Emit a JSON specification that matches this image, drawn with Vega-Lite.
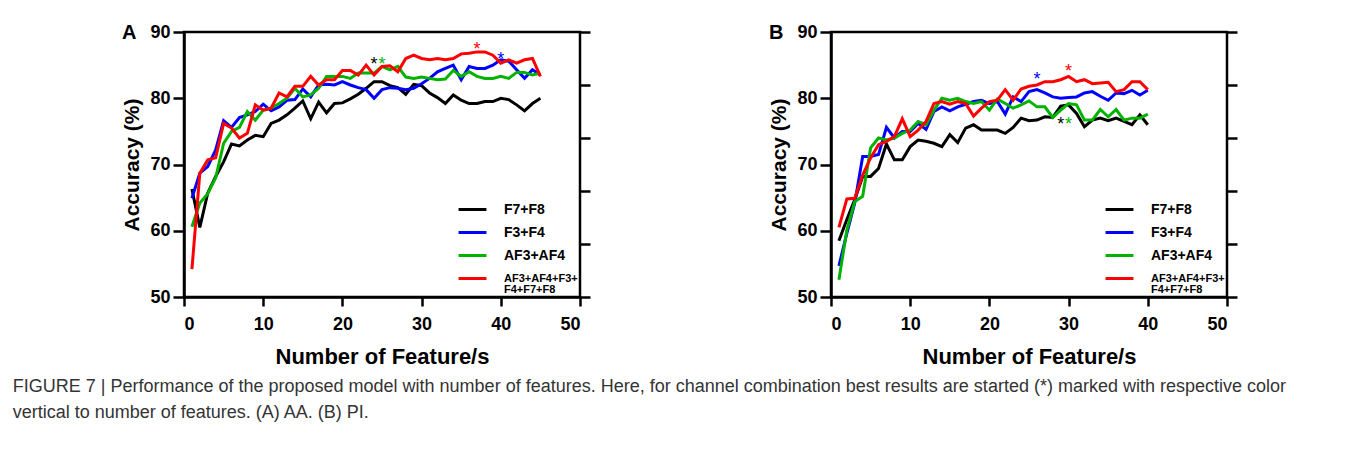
{
  "$schema": "https://vega.github.io/schema/vega-lite/v6.json",
  "background": "white",
  "padding": {"left": 12, "top": 21, "right": 5, "bottom": 5},
  "config": {
    "font": "Liberation Sans",
    "view": {"stroke": "black", "strokeWidth": 2.5},
    "axis": {"domainColor": "black", "domainWidth": 2.5, "tickColor": "black", "tickWidth": 2.5, "grid": false, "labelFont": "Liberation Sans", "labelFontSize": 18, "labelFontWeight": "bold", "labelColor": "black", "titleFont": "Liberation Sans", "titleFontWeight": "bold", "titleColor": "black"},
    "legend": {"orient": "bottom-right", "offset": 2, "title": null, "symbolType": "stroke", "symbolStrokeWidth": 3, "symbolSize": 780, "labelFont": "Liberation Sans", "labelFontSize": 14, "labelFontWeight": "bold", "labelColor": "black", "labelOffset": 16, "rowPadding": 0, "padding": 0, "labelLimit": 300}
  },
  "title": {
    "text": ["FIGURE 7 | Performance of the proposed model with number of features. Here, for channel combination best results are started (*) marked with respective color", "vertical to number of features. (A) AA. (B) PI."],
    "orient": "bottom", "anchor": "start", "frame": "bounds", "fontSize": 18, "fontWeight": "normal", "color": "#333333", "font": "Liberation Sans", "lineHeight": 26, "offset": 10, "dx": -108
  },
  "resolve": {"scale": {"color": "independent"}, "legend": {"color": "independent"}},
  "datasets": {
    "A": [
      {"n":1,"series":"F7+F8","acc":66.3},{"n":2,"series":"F7+F8","acc":60.5},{"n":3,"series":"F7+F8","acc":65.7},{"n":4,"series":"F7+F8","acc":68.2},{"n":5,"series":"F7+F8","acc":70.4},{"n":6,"series":"F7+F8","acc":73.1},{"n":7,"series":"F7+F8","acc":72.8},{"n":8,"series":"F7+F8","acc":73.7},{"n":9,"series":"F7+F8","acc":74.4},{"n":10,"series":"F7+F8","acc":74.2},{"n":11,"series":"F7+F8","acc":76.2},{"n":12,"series":"F7+F8","acc":76.7},{"n":13,"series":"F7+F8","acc":77.5},{"n":14,"series":"F7+F8","acc":78.5},{"n":15,"series":"F7+F8","acc":79.6},{"n":16,"series":"F7+F8","acc":76.9},{"n":17,"series":"F7+F8","acc":79.4},{"n":18,"series":"F7+F8","acc":77.8},{"n":19,"series":"F7+F8","acc":79.2},{"n":20,"series":"F7+F8","acc":79.3},{"n":21,"series":"F7+F8","acc":79.9},{"n":22,"series":"F7+F8","acc":80.6},{"n":23,"series":"F7+F8","acc":81.5},{"n":24,"series":"F7+F8","acc":82.5},{"n":25,"series":"F7+F8","acc":82.5},{"n":26,"series":"F7+F8","acc":81.9},{"n":27,"series":"F7+F8","acc":81.6},{"n":28,"series":"F7+F8","acc":80.6},{"n":29,"series":"F7+F8","acc":82.1},{"n":30,"series":"F7+F8","acc":81.9},{"n":31,"series":"F7+F8","acc":80.8},{"n":32,"series":"F7+F8","acc":80.1},{"n":33,"series":"F7+F8","acc":79.2},{"n":34,"series":"F7+F8","acc":80.5},{"n":35,"series":"F7+F8","acc":79.7},{"n":36,"series":"F7+F8","acc":79.2},{"n":37,"series":"F7+F8","acc":79.2},{"n":38,"series":"F7+F8","acc":79.5},{"n":39,"series":"F7+F8","acc":79.5},{"n":40,"series":"F7+F8","acc":80.0},{"n":41,"series":"F7+F8","acc":79.8},{"n":42,"series":"F7+F8","acc":79.0},{"n":43,"series":"F7+F8","acc":78.1},{"n":44,"series":"F7+F8","acc":79.2},{"n":45,"series":"F7+F8","acc":80.0},
      {"n":1,"series":"F3+F4","acc":64.9},{"n":2,"series":"F3+F4","acc":68.7},{"n":3,"series":"F3+F4","acc":69.7},{"n":4,"series":"F3+F4","acc":72.2},{"n":5,"series":"F3+F4","acc":76.6},{"n":6,"series":"F3+F4","acc":75.6},{"n":7,"series":"F3+F4","acc":77.1},{"n":8,"series":"F3+F4","acc":77.5},{"n":9,"series":"F3+F4","acc":78.0},{"n":10,"series":"F3+F4","acc":79.1},{"n":11,"series":"F3+F4","acc":78.1},{"n":12,"series":"F3+F4","acc":78.7},{"n":13,"series":"F3+F4","acc":79.7},{"n":14,"series":"F3+F4","acc":79.8},{"n":15,"series":"F3+F4","acc":81.4},{"n":16,"series":"F3+F4","acc":80.2},{"n":17,"series":"F3+F4","acc":82.0},{"n":18,"series":"F3+F4","acc":82.1},{"n":19,"series":"F3+F4","acc":82.0},{"n":20,"series":"F3+F4","acc":82.5},{"n":21,"series":"F3+F4","acc":82.0},{"n":22,"series":"F3+F4","acc":81.6},{"n":23,"series":"F3+F4","acc":81.3},{"n":24,"series":"F3+F4","acc":80.0},{"n":25,"series":"F3+F4","acc":81.3},{"n":26,"series":"F3+F4","acc":81.6},{"n":27,"series":"F3+F4","acc":81.5},{"n":28,"series":"F3+F4","acc":81.3},{"n":29,"series":"F3+F4","acc":81.5},{"n":30,"series":"F3+F4","acc":82.2},{"n":31,"series":"F3+F4","acc":83.0},{"n":32,"series":"F3+F4","acc":84.0},{"n":33,"series":"F3+F4","acc":84.5},{"n":34,"series":"F3+F4","acc":85.0},{"n":35,"series":"F3+F4","acc":82.8},{"n":36,"series":"F3+F4","acc":84.8},{"n":37,"series":"F3+F4","acc":84.5},{"n":38,"series":"F3+F4","acc":84.5},{"n":39,"series":"F3+F4","acc":85.0},{"n":40,"series":"F3+F4","acc":85.8},{"n":41,"series":"F3+F4","acc":85.6},{"n":42,"series":"F3+F4","acc":84.3},{"n":43,"series":"F3+F4","acc":83.0},{"n":44,"series":"F3+F4","acc":84.3},{"n":45,"series":"F3+F4","acc":83.5},
      {"n":1,"series":"AF3+AF4","acc":60.6},{"n":2,"series":"AF3+AF4","acc":64.2},{"n":3,"series":"AF3+AF4","acc":65.6},{"n":4,"series":"AF3+AF4","acc":68.0},{"n":5,"series":"AF3+AF4","acc":73.2},{"n":6,"series":"AF3+AF4","acc":75.0},{"n":7,"series":"AF3+AF4","acc":75.6},{"n":8,"series":"AF3+AF4","acc":78.0},{"n":9,"series":"AF3+AF4","acc":76.7},{"n":10,"series":"AF3+AF4","acc":78.2},{"n":11,"series":"AF3+AF4","acc":78.5},{"n":12,"series":"AF3+AF4","acc":79.2},{"n":13,"series":"AF3+AF4","acc":80.0},{"n":14,"series":"AF3+AF4","acc":81.5},{"n":15,"series":"AF3+AF4","acc":80.2},{"n":16,"series":"AF3+AF4","acc":80.5},{"n":17,"series":"AF3+AF4","acc":81.5},{"n":18,"series":"AF3+AF4","acc":83.3},{"n":19,"series":"AF3+AF4","acc":83.3},{"n":20,"series":"AF3+AF4","acc":83.3},{"n":21,"series":"AF3+AF4","acc":83.0},{"n":22,"series":"AF3+AF4","acc":83.8},{"n":23,"series":"AF3+AF4","acc":83.8},{"n":24,"series":"AF3+AF4","acc":83.8},{"n":25,"series":"AF3+AF4","acc":84.8},{"n":26,"series":"AF3+AF4","acc":84.3},{"n":27,"series":"AF3+AF4","acc":84.8},{"n":28,"series":"AF3+AF4","acc":83.2},{"n":29,"series":"AF3+AF4","acc":83.0},{"n":30,"series":"AF3+AF4","acc":83.2},{"n":31,"series":"AF3+AF4","acc":83.0},{"n":32,"series":"AF3+AF4","acc":82.8},{"n":33,"series":"AF3+AF4","acc":82.9},{"n":34,"series":"AF3+AF4","acc":84.2},{"n":35,"series":"AF3+AF4","acc":83.3},{"n":36,"series":"AF3+AF4","acc":84.0},{"n":37,"series":"AF3+AF4","acc":83.3},{"n":38,"series":"AF3+AF4","acc":83.0},{"n":39,"series":"AF3+AF4","acc":83.0},{"n":40,"series":"AF3+AF4","acc":83.3},{"n":41,"series":"AF3+AF4","acc":83.0},{"n":42,"series":"AF3+AF4","acc":83.9},{"n":43,"series":"AF3+AF4","acc":83.9},{"n":44,"series":"AF3+AF4","acc":83.5},{"n":45,"series":"AF3+AF4","acc":83.8},
      {"n":1,"series":"AF3+AF4+F3+F4+F7+F8","acc":54.2},{"n":2,"series":"AF3+AF4+F3+F4+F7+F8","acc":68.7},{"n":3,"series":"AF3+AF4+F3+F4+F7+F8","acc":70.7},{"n":4,"series":"AF3+AF4+F3+F4+F7+F8","acc":71.0},{"n":5,"series":"AF3+AF4+F3+F4+F7+F8","acc":76.2},{"n":6,"series":"AF3+AF4+F3+F4+F7+F8","acc":75.5},{"n":7,"series":"AF3+AF4+F3+F4+F7+F8","acc":74.0},{"n":8,"series":"AF3+AF4+F3+F4+F7+F8","acc":74.7},{"n":9,"series":"AF3+AF4+F3+F4+F7+F8","acc":79.0},{"n":10,"series":"AF3+AF4+F3+F4+F7+F8","acc":78.2},{"n":11,"series":"AF3+AF4+F3+F4+F7+F8","acc":78.5},{"n":12,"series":"AF3+AF4+F3+F4+F7+F8","acc":80.8},{"n":13,"series":"AF3+AF4+F3+F4+F7+F8","acc":80.2},{"n":14,"series":"AF3+AF4+F3+F4+F7+F8","acc":81.8},{"n":15,"series":"AF3+AF4+F3+F4+F7+F8","acc":81.8},{"n":16,"series":"AF3+AF4+F3+F4+F7+F8","acc":83.3},{"n":17,"series":"AF3+AF4+F3+F4+F7+F8","acc":82.0},{"n":18,"series":"AF3+AF4+F3+F4+F7+F8","acc":82.8},{"n":19,"series":"AF3+AF4+F3+F4+F7+F8","acc":82.8},{"n":20,"series":"AF3+AF4+F3+F4+F7+F8","acc":84.2},{"n":21,"series":"AF3+AF4+F3+F4+F7+F8","acc":84.2},{"n":22,"series":"AF3+AF4+F3+F4+F7+F8","acc":83.5},{"n":23,"series":"AF3+AF4+F3+F4+F7+F8","acc":85.0},{"n":24,"series":"AF3+AF4+F3+F4+F7+F8","acc":83.5},{"n":25,"series":"AF3+AF4+F3+F4+F7+F8","acc":84.8},{"n":26,"series":"AF3+AF4+F3+F4+F7+F8","acc":84.9},{"n":27,"series":"AF3+AF4+F3+F4+F7+F8","acc":84.0},{"n":28,"series":"AF3+AF4+F3+F4+F7+F8","acc":86.0},{"n":29,"series":"AF3+AF4+F3+F4+F7+F8","acc":86.5},{"n":30,"series":"AF3+AF4+F3+F4+F7+F8","acc":86.0},{"n":31,"series":"AF3+AF4+F3+F4+F7+F8","acc":85.8},{"n":32,"series":"AF3+AF4+F3+F4+F7+F8","acc":86.0},{"n":33,"series":"AF3+AF4+F3+F4+F7+F8","acc":85.8},{"n":34,"series":"AF3+AF4+F3+F4+F7+F8","acc":86.0},{"n":35,"series":"AF3+AF4+F3+F4+F7+F8","acc":86.7},{"n":36,"series":"AF3+AF4+F3+F4+F7+F8","acc":86.8},{"n":37,"series":"AF3+AF4+F3+F4+F7+F8","acc":87.0},{"n":38,"series":"AF3+AF4+F3+F4+F7+F8","acc":87.0},{"n":39,"series":"AF3+AF4+F3+F4+F7+F8","acc":86.5},{"n":40,"series":"AF3+AF4+F3+F4+F7+F8","acc":85.3},{"n":41,"series":"AF3+AF4+F3+F4+F7+F8","acc":85.8},{"n":42,"series":"AF3+AF4+F3+F4+F7+F8","acc":85.3},{"n":43,"series":"AF3+AF4+F3+F4+F7+F8","acc":85.8},{"n":44,"series":"AF3+AF4+F3+F4+F7+F8","acc":86.0},{"n":45,"series":"AF3+AF4+F3+F4+F7+F8","acc":83.3}
    ],
    "B": [
      {"n":1,"series":"F7+F8","acc":58.5},{"n":2,"series":"F7+F8","acc":61.7},{"n":3,"series":"F7+F8","acc":64.7},{"n":4,"series":"F7+F8","acc":68.2},{"n":5,"series":"F7+F8","acc":68.2},{"n":6,"series":"F7+F8","acc":69.4},{"n":7,"series":"F7+F8","acc":73.1},{"n":8,"series":"F7+F8","acc":70.7},{"n":9,"series":"F7+F8","acc":70.7},{"n":10,"series":"F7+F8","acc":72.7},{"n":11,"series":"F7+F8","acc":73.7},{"n":12,"series":"F7+F8","acc":73.5},{"n":13,"series":"F7+F8","acc":73.2},{"n":14,"series":"F7+F8","acc":72.7},{"n":15,"series":"F7+F8","acc":74.5},{"n":16,"series":"F7+F8","acc":73.3},{"n":17,"series":"F7+F8","acc":75.5},{"n":18,"series":"F7+F8","acc":76.0},{"n":19,"series":"F7+F8","acc":75.2},{"n":20,"series":"F7+F8","acc":75.2},{"n":21,"series":"F7+F8","acc":75.2},{"n":22,"series":"F7+F8","acc":74.7},{"n":23,"series":"F7+F8","acc":75.6},{"n":24,"series":"F7+F8","acc":77.0},{"n":25,"series":"F7+F8","acc":76.6},{"n":26,"series":"F7+F8","acc":76.7},{"n":27,"series":"F7+F8","acc":77.2},{"n":28,"series":"F7+F8","acc":77.1},{"n":29,"series":"F7+F8","acc":78.8},{"n":30,"series":"F7+F8","acc":79.0},{"n":31,"series":"F7+F8","acc":77.7},{"n":32,"series":"F7+F8","acc":75.7},{"n":33,"series":"F7+F8","acc":76.7},{"n":34,"series":"F7+F8","acc":77.0},{"n":35,"series":"F7+F8","acc":76.6},{"n":36,"series":"F7+F8","acc":77.0},{"n":37,"series":"F7+F8","acc":76.5},{"n":38,"series":"F7+F8","acc":76.0},{"n":39,"series":"F7+F8","acc":77.5},{"n":40,"series":"F7+F8","acc":76.0},
      {"n":1,"series":"F3+F4","acc":54.7},{"n":2,"series":"F3+F4","acc":59.6},{"n":3,"series":"F3+F4","acc":64.2},{"n":4,"series":"F3+F4","acc":71.2},{"n":5,"series":"F3+F4","acc":71.2},{"n":6,"series":"F3+F4","acc":71.5},{"n":7,"series":"F3+F4","acc":75.6},{"n":8,"series":"F3+F4","acc":74.0},{"n":9,"series":"F3+F4","acc":75.0},{"n":10,"series":"F3+F4","acc":75.0},{"n":11,"series":"F3+F4","acc":76.2},{"n":12,"series":"F3+F4","acc":75.3},{"n":13,"series":"F3+F4","acc":78.0},{"n":14,"series":"F3+F4","acc":78.7},{"n":15,"series":"F3+F4","acc":78.1},{"n":16,"series":"F3+F4","acc":78.7},{"n":17,"series":"F3+F4","acc":79.1},{"n":18,"series":"F3+F4","acc":79.5},{"n":19,"series":"F3+F4","acc":79.7},{"n":20,"series":"F3+F4","acc":79.2},{"n":21,"series":"F3+F4","acc":79.5},{"n":22,"series":"F3+F4","acc":77.6},{"n":23,"series":"F3+F4","acc":80.2},{"n":24,"series":"F3+F4","acc":79.5},{"n":25,"series":"F3+F4","acc":81.0},{"n":26,"series":"F3+F4","acc":81.3},{"n":27,"series":"F3+F4","acc":80.8},{"n":28,"series":"F3+F4","acc":80.2},{"n":29,"series":"F3+F4","acc":80.0},{"n":30,"series":"F3+F4","acc":80.1},{"n":31,"series":"F3+F4","acc":80.2},{"n":32,"series":"F3+F4","acc":80.8},{"n":33,"series":"F3+F4","acc":81.0},{"n":34,"series":"F3+F4","acc":80.3},{"n":35,"series":"F3+F4","acc":79.7},{"n":36,"series":"F3+F4","acc":80.8},{"n":37,"series":"F3+F4","acc":80.7},{"n":38,"series":"F3+F4","acc":81.2},{"n":39,"series":"F3+F4","acc":80.5},{"n":40,"series":"F3+F4","acc":81.2},
      {"n":1,"series":"AF3+AF4","acc":52.6},{"n":2,"series":"AF3+AF4","acc":60.1},{"n":3,"series":"AF3+AF4","acc":64.4},{"n":4,"series":"AF3+AF4","acc":65.2},{"n":5,"series":"AF3+AF4","acc":72.5},{"n":6,"series":"AF3+AF4","acc":74.0},{"n":7,"series":"AF3+AF4","acc":73.7},{"n":8,"series":"AF3+AF4","acc":74.0},{"n":9,"series":"AF3+AF4","acc":74.7},{"n":10,"series":"AF3+AF4","acc":75.2},{"n":11,"series":"AF3+AF4","acc":76.5},{"n":12,"series":"AF3+AF4","acc":76.0},{"n":13,"series":"AF3+AF4","acc":78.2},{"n":14,"series":"AF3+AF4","acc":80.0},{"n":15,"series":"AF3+AF4","acc":79.7},{"n":16,"series":"AF3+AF4","acc":80.0},{"n":17,"series":"AF3+AF4","acc":79.5},{"n":18,"series":"AF3+AF4","acc":79.2},{"n":19,"series":"AF3+AF4","acc":79.5},{"n":20,"series":"AF3+AF4","acc":78.2},{"n":21,"series":"AF3+AF4","acc":79.9},{"n":22,"series":"AF3+AF4","acc":79.2},{"n":23,"series":"AF3+AF4","acc":78.5},{"n":24,"series":"AF3+AF4","acc":79.0},{"n":25,"series":"AF3+AF4","acc":79.6},{"n":26,"series":"AF3+AF4","acc":78.7},{"n":27,"series":"AF3+AF4","acc":78.7},{"n":28,"series":"AF3+AF4","acc":77.1},{"n":29,"series":"AF3+AF4","acc":78.2},{"n":30,"series":"AF3+AF4","acc":79.2},{"n":31,"series":"AF3+AF4","acc":79.0},{"n":32,"series":"AF3+AF4","acc":76.7},{"n":33,"series":"AF3+AF4","acc":76.7},{"n":34,"series":"AF3+AF4","acc":78.3},{"n":35,"series":"AF3+AF4","acc":77.2},{"n":36,"series":"AF3+AF4","acc":78.3},{"n":37,"series":"AF3+AF4","acc":76.7},{"n":38,"series":"AF3+AF4","acc":77.0},{"n":39,"series":"AF3+AF4","acc":77.0},{"n":40,"series":"AF3+AF4","acc":77.6},
      {"n":1,"series":"AF3+AF4+F3+F4+F7+F8","acc":60.5},{"n":2,"series":"AF3+AF4+F3+F4+F7+F8","acc":64.8},{"n":3,"series":"AF3+AF4+F3+F4+F7+F8","acc":64.9},{"n":4,"series":"AF3+AF4+F3+F4+F7+F8","acc":68.4},{"n":5,"series":"AF3+AF4+F3+F4+F7+F8","acc":71.0},{"n":6,"series":"AF3+AF4+F3+F4+F7+F8","acc":73.0},{"n":7,"series":"AF3+AF4+F3+F4+F7+F8","acc":73.5},{"n":8,"series":"AF3+AF4+F3+F4+F7+F8","acc":74.2},{"n":9,"series":"AF3+AF4+F3+F4+F7+F8","acc":76.9},{"n":10,"series":"AF3+AF4+F3+F4+F7+F8","acc":74.2},{"n":11,"series":"AF3+AF4+F3+F4+F7+F8","acc":75.2},{"n":12,"series":"AF3+AF4+F3+F4+F7+F8","acc":76.5},{"n":13,"series":"AF3+AF4+F3+F4+F7+F8","acc":79.2},{"n":14,"series":"AF3+AF4+F3+F4+F7+F8","acc":79.5},{"n":15,"series":"AF3+AF4+F3+F4+F7+F8","acc":79.1},{"n":16,"series":"AF3+AF4+F3+F4+F7+F8","acc":79.5},{"n":17,"series":"AF3+AF4+F3+F4+F7+F8","acc":79.2},{"n":18,"series":"AF3+AF4+F3+F4+F7+F8","acc":77.3},{"n":19,"series":"AF3+AF4+F3+F4+F7+F8","acc":78.5},{"n":20,"series":"AF3+AF4+F3+F4+F7+F8","acc":79.5},{"n":21,"series":"AF3+AF4+F3+F4+F7+F8","acc":79.7},{"n":22,"series":"AF3+AF4+F3+F4+F7+F8","acc":81.3},{"n":23,"series":"AF3+AF4+F3+F4+F7+F8","acc":79.7},{"n":24,"series":"AF3+AF4+F3+F4+F7+F8","acc":81.4},{"n":25,"series":"AF3+AF4+F3+F4+F7+F8","acc":81.8},{"n":26,"series":"AF3+AF4+F3+F4+F7+F8","acc":82.0},{"n":27,"series":"AF3+AF4+F3+F4+F7+F8","acc":82.5},{"n":28,"series":"AF3+AF4+F3+F4+F7+F8","acc":82.5},{"n":29,"series":"AF3+AF4+F3+F4+F7+F8","acc":82.8},{"n":30,"series":"AF3+AF4+F3+F4+F7+F8","acc":83.3},{"n":31,"series":"AF3+AF4+F3+F4+F7+F8","acc":82.5},{"n":32,"series":"AF3+AF4+F3+F4+F7+F8","acc":82.8},{"n":33,"series":"AF3+AF4+F3+F4+F7+F8","acc":82.2},{"n":34,"series":"AF3+AF4+F3+F4+F7+F8","acc":82.3},{"n":35,"series":"AF3+AF4+F3+F4+F7+F8","acc":82.4},{"n":36,"series":"AF3+AF4+F3+F4+F7+F8","acc":81.0},{"n":37,"series":"AF3+AF4+F3+F4+F7+F8","acc":81.3},{"n":38,"series":"AF3+AF4+F3+F4+F7+F8","acc":82.5},{"n":39,"series":"AF3+AF4+F3+F4+F7+F8","acc":82.5},{"n":40,"series":"AF3+AF4+F3+F4+F7+F8","acc":81.3}
    ],
    "starsA": [
      {"n":24,"series":"F7+F8","acc":85.8},{"n":25,"series":"AF3+AF4","acc":85.8},{"n":37,"series":"AF3+AF4+F3+F4+F7+F8","acc":88.0},{"n":40,"series":"F3+F4","acc":86.5}
    ],
    "starsB": [
      {"n":26,"series":"F3+F4","acc":83.5},{"n":30,"series":"AF3+AF4+F3+F4+F7+F8","acc":84.7},{"n":29,"series":"F7+F8","acc":76.7},{"n":30,"series":"AF3+AF4","acc":76.7}
    ]
  },
  "spacing": 174,
  "hconcat": [
    {
      "width": 396, "height": 265,
      "title": {"text": "A", "anchor": "start", "frame": "bounds", "fontSize": 20, "fontWeight": "bold", "color": "black", "baseline": "middle", "offset": -30},
      "layer": [
        {
          "data": {"name": "A"},
          "mark": {"type": "line", "strokeWidth": 3},
          "encoding": {
            "x": {"field": "n", "type": "quantitative", "scale": {"domain": [0, 50]}, "axis": {"values": [0, 10, 20, 30, 40, 50], "title": "Number of Feature/s", "titleFontSize": 22, "tickSize": 9, "labelPadding": 9, "titlePadding": 13}},
            "y": {"field": "acc", "type": "quantitative", "scale": {"domain": [50, 90]}, "axis": {"values": [50, 60, 70, 80, 90], "title": "Accuracy (%)", "titleFontSize": 21, "tickSize": 11, "labelPadding": 3, "titlePadding": 7}},
            "color": {"field": "series", "type": "nominal", "scale": {"domain": ["F7+F8", "F3+F4", "AF3+AF4", "AF3+AF4+F3+F4+F7+F8"], "range": ["#000000", "#0000ff", "#00b300", "#ff0000"]}, "legend": {"labelExpr": "datum.value == 'AF3+AF4+F3+F4+F7+F8' ? ['AF3+AF4+F3+', 'F4+F7+F8'] : datum.label", "encode": {"labels": {"update": {"fontSize": {"signal": "datum.value == 'AF3+AF4+F3+F4+F7+F8' ? 11 : 14"}, "lineHeight": {"value": 11}}}}}}
          }
        },
        {
          "data": {"name": "starsA"},
          "mark": {"type": "text", "text": "*", "fontSize": 18, "baseline": "middle", "dy": 5},
          "encoding": {
            "x": {"field": "n", "type": "quantitative"},
            "y": {"field": "acc", "type": "quantitative", "scale": {"domain": [50, 90]}, "axis": null},
            "color": {"field": "series", "type": "nominal", "legend": null}
          }
        },
        {
          "data": {"values": [{}]},
          "mark": {"type": "rule", "opacity": 0},
          "encoding": {
            "y": {"datum": 0, "type": "quantitative", "scale": {"domain": [0, 5]}, "axis": {"orient": "right", "values": [0, 1, 2, 3, 4, 5], "labels": false, "title": null, "domain": false, "tickSize": 10}}
          }
        }
      ],
      "resolve": {"scale": {"y": "independent"}}
    },
    {
      "width": 396, "height": 265,
      "title": {"text": "B", "anchor": "start", "frame": "bounds", "fontSize": 20, "fontWeight": "bold", "color": "black", "baseline": "middle", "offset": -30},
      "layer": [
        {
          "data": {"name": "B"},
          "mark": {"type": "line", "strokeWidth": 3},
          "encoding": {
            "x": {"field": "n", "type": "quantitative", "scale": {"domain": [0, 50]}, "axis": {"values": [0, 10, 20, 30, 40, 50], "title": "Number of Feature/s", "titleFontSize": 22, "tickSize": 9, "labelPadding": 9, "titlePadding": 13}},
            "y": {"field": "acc", "type": "quantitative", "scale": {"domain": [50, 90]}, "axis": {"values": [50, 60, 70, 80, 90], "title": "Accuracy (%)", "titleFontSize": 21, "tickSize": 11, "labelPadding": 3, "titlePadding": 7}},
            "color": {"field": "series", "type": "nominal", "scale": {"domain": ["F7+F8", "F3+F4", "AF3+AF4", "AF3+AF4+F3+F4+F7+F8"], "range": ["#000000", "#0000ff", "#00b300", "#ff0000"]}, "legend": {"labelExpr": "datum.value == 'AF3+AF4+F3+F4+F7+F8' ? ['AF3+AF4+F3+', 'F4+F7+F8'] : datum.label", "encode": {"labels": {"update": {"fontSize": {"signal": "datum.value == 'AF3+AF4+F3+F4+F7+F8' ? 11 : 14"}, "lineHeight": {"value": 11}}}}}}
          }
        },
        {
          "data": {"name": "starsB"},
          "mark": {"type": "text", "text": "*", "fontSize": 18, "baseline": "middle", "dy": 5},
          "encoding": {
            "x": {"field": "n", "type": "quantitative"},
            "y": {"field": "acc", "type": "quantitative", "scale": {"domain": [50, 90]}, "axis": null},
            "color": {"field": "series", "type": "nominal", "legend": null}
          }
        },
        {
          "data": {"values": [{}]},
          "mark": {"type": "rule", "opacity": 0},
          "encoding": {
            "y": {"datum": 0, "type": "quantitative", "scale": {"domain": [0, 5]}, "axis": {"orient": "right", "values": [0, 1, 2, 3, 4, 5], "labels": false, "title": null, "domain": false, "tickSize": 10}}
          }
        }
      ],
      "resolve": {"scale": {"y": "independent"}}
    }
  ]
}
